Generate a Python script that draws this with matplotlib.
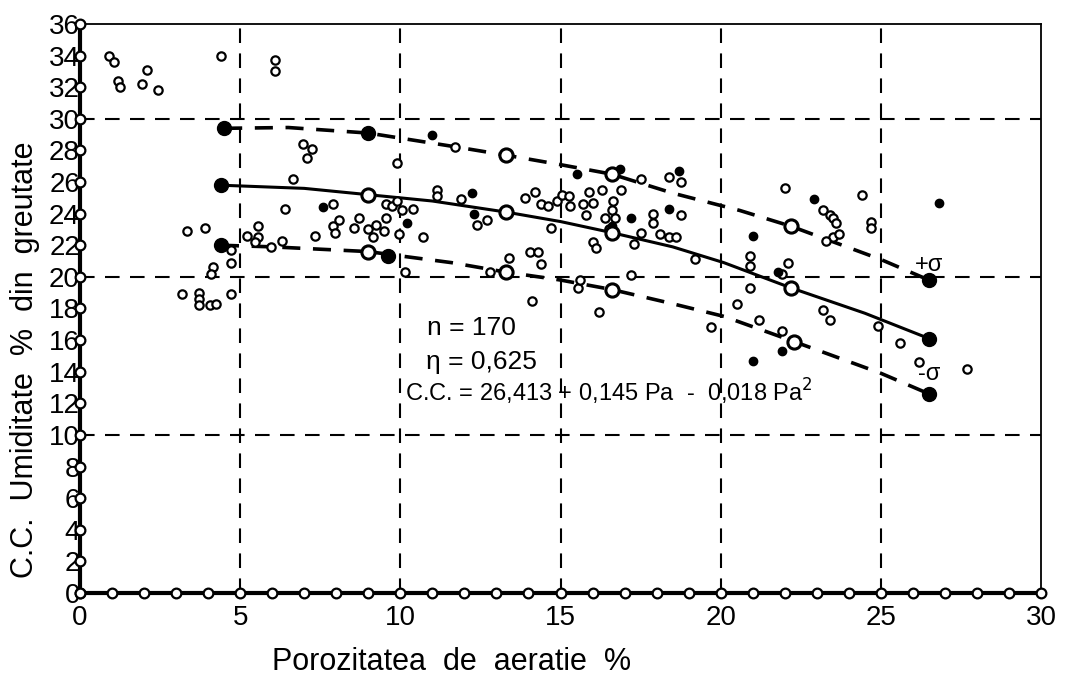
import numpy as np
import matplotlib
matplotlib.use("Agg")
import matplotlib.pyplot as plt

plt.rcParams['font.family'] = ['Liberation Sans', 'DejaVu Sans']

# porozitate de aeratie (%) / capacitate de camp (% din greutate)
pts_open_x = [0.9, 1.05, 1.2, 1.25, 2.1, 1.95, 2.45, 4.4, 6.1, 6.1,
              3.35, 3.9, 3.2, 3.7, 3.7, 3.7, 4.05, 4.25, 4.7, 4.15, 4.1, 4.7, 4.7,
              5.2, 5.55, 5.55, 5.45, 5.95, 6.3, 6.4, 6.65, 6.95, 7.25, 7.1, 7.35,
              7.9, 7.9, 7.95, 8.1, 8.55, 8.7, 9.0, 9.15, 9.25, 9.5, 9.55, 9.55,
              9.75, 9.9, 10.05, 10.4, 9.9, 9.95, 10.7, 10.15,
              11.15, 11.15, 11.7, 11.9, 12.4, 12.7, 12.8, 13.4, 13.9, 14.2, 14.4,
              14.6, 14.9, 15.05, 15.25, 15.3, 14.7, 14.05, 14.3, 14.4, 14.1,
              15.55, 15.6, 15.9, 15.7, 16.0, 15.8, 16.3, 16.65, 16.6, 16.4, 16.7,
              16.0, 16.1, 16.2, 16.9, 16.5, 17.5, 17.5, 17.3, 17.2, 17.9, 17.9,
              18.4, 18.75, 18.75, 18.1, 18.4, 18.6, 19.2, 19.7,
              20.9, 20.9, 20.9, 20.5, 21.2, 22.0, 22.1, 21.9, 21.9,
              23.2, 23.4, 23.5, 23.6, 23.5, 23.3, 23.7, 23.2, 23.4,
              24.4, 24.7, 24.7, 24.9, 25.6, 26.2, 27.7]
pts_open_y = [34.0, 33.6, 32.4, 32.0, 33.1, 32.2, 31.8, 34.0, 33.7, 33.0,
              22.9, 23.1, 18.9, 19.0, 18.6, 18.2, 18.2, 18.3, 18.9, 20.6, 20.2, 20.9, 21.7,
              22.6, 23.2, 22.5, 22.2, 21.9, 22.3, 24.3, 26.2, 28.4, 28.1, 27.5, 22.6,
              24.6, 23.2, 22.8, 23.6, 23.1, 23.7, 23.0, 22.5, 23.3, 22.9, 23.7, 24.6,
              24.5, 24.8, 24.2, 24.3, 27.2, 22.7, 22.5, 20.3,
              25.5, 25.1, 28.2, 24.9, 23.3, 23.6, 20.3, 21.2, 25.0, 25.4, 24.6,
              24.5, 24.8, 25.2, 25.1, 24.5, 23.1, 21.6, 21.6, 20.8, 18.5,
              19.3, 19.8, 25.4, 24.6, 24.7, 23.9, 25.5, 24.8, 24.2, 23.7, 23.7,
              22.2, 21.8, 17.8, 25.5, 23.0, 26.2, 22.8, 22.1, 20.1, 24.0, 23.4,
              26.3, 26.0, 23.9, 22.7, 22.5, 22.5, 21.1, 16.8,
              21.3, 20.7, 19.3, 18.3, 17.3, 25.6, 20.9, 20.2, 16.6,
              24.2, 23.9, 23.7, 23.4, 22.5, 22.3, 22.7, 17.9, 17.3,
              25.2, 23.5, 23.1, 16.9, 15.8, 14.6, 14.2]
pts_full_x = [7.6, 10.2, 11.0, 12.25, 12.3, 15.5, 16.85, 17.2, 16.6, 18.7, 18.4,
              21.0, 21.0, 21.8, 21.9, 22.9, 26.8]
pts_full_y = [24.4, 23.4, 29.0, 25.3, 24.0, 26.5, 26.8, 23.7, 23.2, 26.7, 24.3,
              22.6, 14.7, 20.3, 15.3, 24.9, 24.7]

# curbele: media si +/- sigma
mean_x = [4.4, 7.0, 9.0, 11.0, 13.3, 15.0, 16.6, 18.5, 20.1, 22.2, 24.5, 26.5]
mean_y = [25.8, 25.6, 25.2, 24.8, 24.1, 23.5, 22.8, 21.9, 20.9, 19.3, 17.7, 16.1]
up_x = [4.5, 6.5, 9.0, 11.5, 13.3, 15.0, 16.6, 18.5, 20.6, 22.2, 25.0, 26.5]
up_y = [29.4, 29.45, 29.1, 28.3, 27.7, 27.1, 26.5, 25.3, 24.2, 23.2, 21.1, 19.8]
lo_x = [4.4, 6.0, 9.0, 10.1, 11.6, 13.3, 15.0, 16.6, 18.5, 20.1, 22.3, 25.0, 26.5]
lo_y = [22.0, 21.9, 21.6, 21.3, 20.9, 20.3, 19.8, 19.2, 18.3, 17.5, 15.9, 13.9, 12.6]

# punctele marcate pe curbe
node_full_x = [4.4, 26.5, 4.5, 9.0, 26.5, 4.4, 9.6, 26.5]
node_full_y = [25.8, 16.1, 29.4, 29.1, 19.8, 22.0, 21.3, 12.6]
node_open_x = [9.0, 13.3, 16.6, 22.2, 13.3, 16.6, 22.2, 9.0, 13.3, 16.6, 22.3]
node_open_y = [25.2, 24.1, 22.8, 19.3, 27.7, 26.5, 23.2, 21.6, 20.3, 19.2, 15.9]

xticks = [0, 5, 10, 15, 20, 25, 30]
yticks = list(range(0, 37, 2))

fig = plt.figure(figsize=(10.65, 6.8), dpi=100)
ax = fig.add_axes([0.0751, 0.128, 0.9024, 0.8367])
ax.set_xlim(0, 30)
ax.set_ylim(0, 36)

for s in ['left', 'bottom']:
    ax.spines[s].set_linewidth(3)
for s in ['top', 'right']:
    ax.spines[s].set_linewidth(1.3)

# grila punctata
for gx in [5, 10, 15, 20, 25]:
    ax.axvline(gx, color='black', lw=1.5, dashes=(7, 5), zorder=1)
for gy in [10, 20, 30]:
    ax.axhline(gy, color='black', lw=1.5, dashes=(7, 5), zorder=1)

ax.plot(mean_x, mean_y, color='black', lw=2.2, zorder=3)
ax.plot(up_x, up_y, color='black', lw=2.6, dashes=(5, 3.5), zorder=3)
ax.plot(lo_x, lo_y, color='black', lw=2.6, dashes=(5, 3.5), zorder=3)

ax.plot(pts_open_x, pts_open_y, 'o', ms=6, mfc='white', mec='black', mew=1.6, zorder=4)
ax.plot(pts_full_x, pts_full_y, 'o', ms=6, color='black', zorder=4)
ax.plot(node_open_x, node_open_y, 'o', ms=9.5, mfc='white', mec='black', mew=2.2, zorder=5)
ax.plot(node_full_x, node_full_y, 'o', ms=10, color='black', zorder=5)

# cerculete pe axe
ax.plot(range(0, 31), [0] * 31, 'o', ms=7, mfc='white', mec='black', mew=1.6,
        clip_on=False, zorder=6)
ax.plot([0] * len(yticks), yticks, 'o', ms=7, mfc='white', mec='black', mew=1.6,
        clip_on=False, zorder=6)

ax.set_xticks(xticks)
ax.set_xticklabels([str(v) for v in xticks])
ax.set_yticks(yticks)
ax.set_yticklabels([str(v) for v in yticks])
ax.tick_params(length=0, labelsize=20)
ax.tick_params(axis='y', pad=0)
ax.tick_params(axis='x', pad=9)

ax.text(10.83, 16.3, 'n = 170', fontsize=19)
ax.text(10.8, 14.2, 'η = 0,625', fontsize=19)
ax.text(10.14, 12.1, 'C.C. = 26,413 + 0,145 Pa  -  0,018 Pa$^{2}$', fontsize=17)
ax.text(26.05, 20.4, '+σ', fontsize=17)
ax.text(26.15, 13.5, '-σ', fontsize=17)

fig.text(25 / 1065, 1 - 360 / 680, 'C.C.  Umiditate  %  din  greutate', rotation=90,
         ha='center', va='center', fontsize=22)
fig.text(452 / 1065, 1 - 662 / 680, 'Porozitatea  de  aeratie  %', ha='center', va='center',
         fontsize=22)

fig.savefig('out.png', dpi=100)
